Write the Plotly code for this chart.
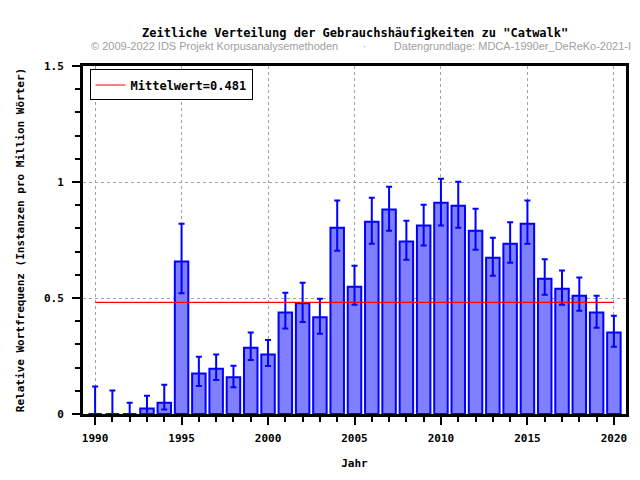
import plotly.graph_objects as go

years = list(range(1990, 2021))
values = [0.0, 0.0, 0.0, 0.024, 0.049, 0.657, 0.175, 0.195, 0.158, 0.286,
          0.257, 0.437, 0.477, 0.417, 0.803, 0.549, 0.829, 0.881, 0.744, 0.812,
          0.911, 0.898, 0.790, 0.674, 0.734, 0.820, 0.583, 0.540, 0.510, 0.437,
          0.351]
upper = [0.118, 0.101, 0.049, 0.079, 0.126, 0.820, 0.247, 0.256, 0.208, 0.351,
         0.319, 0.523, 0.566, 0.497, 0.920, 0.639, 0.932, 0.980, 0.833, 0.902,
         1.014, 1.001, 0.885, 0.760, 0.826, 0.920, 0.667, 0.618, 0.588, 0.510,
         0.424]
lower = [0.0, 0.0, 0.0, 0.0, 0.019, 0.521, 0.121, 0.147, 0.115, 0.233,
         0.207, 0.368, 0.397, 0.346, 0.704, 0.471, 0.734, 0.790, 0.665, 0.726,
         0.812, 0.803, 0.708, 0.596, 0.652, 0.734, 0.514, 0.471, 0.445, 0.372,
         0.290]
mean_value = 0.481
mean_label = "Mittelwert=0.481"

title = 'Zeitliche Verteilung der Gebrauchshäufigkeiten zu "Catwalk"'
subtitle = ("© 2009-2022 IDS Projekt Korpusanalysemethoden"
            "\u00a0\u00a0\u00a0\u00a0\u00a0\u00a0\u00a0\u00a0·\u00a0\u00a0\u00a0\u00a0\u00a0\u00a0\u00a0\u00a0\u00a0"
            "Datengrundlage: MDCA-1990er_DeReKo-2021-I")
x_title = "Jahr"
y_title = "Relative Wortfrequenz (Instanzen pro Million Wörter)"

mono = "DejaVu Sans Mono"

err_plus = [u - v for u, v in zip(upper, values)]
err_minus = [v - l for v, l in zip(values, lower)]

fig = go.Figure()
fig.add_trace(go.Bar(
    x=years, y=values, width=0.78,
    marker=dict(color="#8080FF", line=dict(color="#0000FF", width=2)),
    error_y=dict(type="data", symmetric=False, array=err_plus, arrayminus=err_minus,
                 color="#0000FF", thickness=2, width=3),
    showlegend=False,
))
fig.add_trace(go.Scatter(
    x=[years[0], years[-1]], y=[mean_value, mean_value], mode="lines",
    line=dict(color="#FF0000", width=1.2), name=mean_label, showlegend=True,
))

fig.update_layout(
    width=640, height=480,
    margin=dict(l=83, r=14, t=66, b=66),
    paper_bgcolor="white", plot_bgcolor="white",
    font=dict(family=mono, size=11, color="black"),
    showlegend=True,
    legend=dict(x=0.012, y=0.99, xanchor="left", yanchor="top",
                bordercolor="black", borderwidth=1, bgcolor="white",
                font=dict(family=mono, size=12, color="black", weight="bold"),
                itemwidth=30, tracegroupgap=0),
    bargap=0.2,
)
fig.add_annotation(text="<b>" + title + "</b>", xref="paper", yref="paper",
                   x=0.5, y=1.0, yshift=33, xanchor="center", yanchor="middle",
                   showarrow=False, font=dict(family=mono, size=12, color="black"))
fig.add_annotation(text=subtitle, xref="paper", yref="paper",
                   x=0.5, y=1.0, yshift=20, xshift=6, xanchor="center", yanchor="middle",
                   showarrow=False, font=dict(family="Liberation Sans", size=11, color="#A0A0A0"))

fig.update_xaxes(
    range=[1989.3, 2020.7], tickmode="linear", tick0=1990, dtick=5,
    ticks="outside", ticklen=8, tickwidth=2, tickcolor="black",
    showline=True, linecolor="black", linewidth=3, mirror=True,
    showgrid=True, gridcolor="#A0A0A0", griddash="dot", gridwidth=1,
    zeroline=False, ticklabelstandoff=4,
    tickfont=dict(family=mono, size=11, color="black", weight="bold"),
    minor=dict(dtick=1, tick0=1990, ticks="outside", ticklen=5, tickwidth=2, tickcolor="black", showgrid=False),
    title=dict(text="<b>" + x_title + "</b>", font=dict(family=mono, size=11, color="black"), standoff=16),
)
fig.update_yaxes(
    range=[0, 1.5], tickmode="linear", tick0=0, dtick=0.5,
    ticks="outside", ticklen=8, tickwidth=2, tickcolor="black",
    showline=True, linecolor="black", linewidth=3, mirror=True,
    showgrid=True, gridcolor="#A0A0A0", griddash="dot", gridwidth=1,
    zeroline=False, ticklabelstandoff=6,
    tickfont=dict(family=mono, size=11, color="black", weight="bold"),
    minor=dict(dtick=0.1, tick0=0, ticks="outside", ticklen=5, tickwidth=2, tickcolor="black", showgrid=False),
    title=dict(text="<b>" + y_title + "</b>", font=dict(family=mono, size=11, color="black"), standoff=18),
)

fig.write_html("out.html", config={"displayModeBar": False},
               post_script="document.body.style.margin='0';")
